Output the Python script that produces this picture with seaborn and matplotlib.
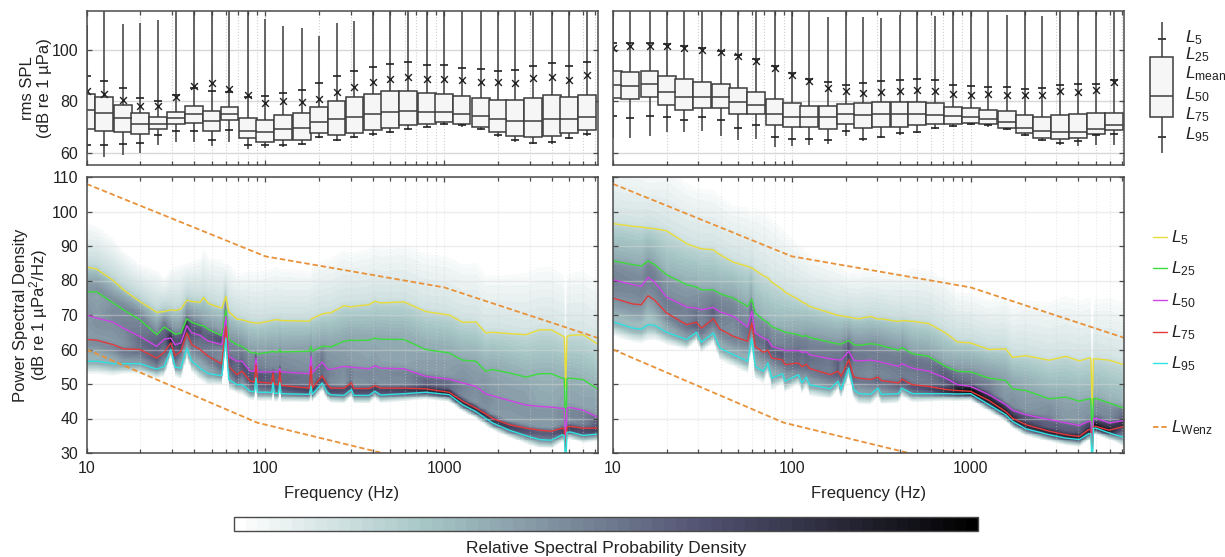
import numpy as np
import pandas as pd
import matplotlib
matplotlib.use('Agg')
import matplotlib.pyplot as plt
import seaborn as sns
from matplotlib.cm import ScalarMappable
from matplotlib.colors import Normalize, PowerNorm
from matplotlib.lines import Line2D
from matplotlib.ticker import FixedLocator, FixedFormatter, NullFormatter

# third octave bands of the box plots
BANDS = [10, 12.5, 16, 20, 25, 31.5, 40, 50, 63, 80, 100, 125, 160, 200, 250, 315, 400, 500,
         630, 800, 1000, 1250, 1600, 2000, 2500, 3150, 4000, 5000, 6300]

# rms SPL, left panel
left_max = [109.6, 118, 109.9, 110.2, 111.6, 118, 118, 118, 118, 118, 111.8, 109.3, 108.4, 105.5, 110.5, 111.2, 118, 118, 118, 118, 118, 118, 118, 118, 118, 118, 118, 118, 118]
left_l5 = [89.7, 87.9, 85.1, 81.2, 80, 82.4, 85.1, 83.9, 83.8, 81.7, 82, 83.4, 84.6, 87, 89.7, 91.6, 93.4, 94.6, 95.1, 94.2, 94, 93.1, 92.4, 91.6, 92.2, 93.8, 94.7, 93.8, 95.1]
left_mean = [83.9, 82.9, 80.5, 78.1, 78.1, 81.9, 86.1, 87.1, 84.8, 82.4, 79.3, 80.1, 79.6, 81, 83.7, 85.5, 87.5, 88.8, 89.5, 88.7, 88.7, 88.2, 87.5, 87.4, 87.3, 88.9, 89.5, 88.2, 90.2]
left_l25 = [82.9, 81.6, 78.8, 75.4, 73.9, 76.1, 78.4, 76.3, 77.7, 73.4, 73, 74.7, 75.6, 77.7, 80.1, 81.6, 82.9, 84, 84.2, 83.4, 82.9, 82, 81.4, 80.6, 80.5, 81.5, 82.5, 81.7, 82.3]
left_l50 = [76.6, 75.6, 73.6, 71.3, 71.4, 73.4, 75, 72.5, 75.2, 68.6, 68.1, 69.4, 69.8, 72, 73.2, 74, 75.2, 75.8, 76.2, 75.8, 75.8, 75.3, 74.3, 73.1, 72.3, 72.6, 73.2, 73.1, 73.8]
left_l75 = [69.4, 68.7, 68, 67.3, 69.3, 71.1, 71.7, 68.4, 72.7, 65.7, 64.4, 65.1, 65.1, 67.8, 67.1, 67.7, 68.9, 69.9, 70.8, 71.4, 72, 71.4, 70.3, 68.1, 66.6, 66.2, 66.6, 67.6, 69.1]
left_l95 = [63.1, 63.3, 63.6, 64, 67.1, 68.7, 68.5, 64.9, 69.1, 63.3, 63, 63.2, 63.7, 66.4, 65.1, 66.3, 67.3, 68.2, 69.4, 70.3, 71.1, 70.7, 69.4, 66.9, 64.9, 63.9, 64.4, 65.9, 67.3]
left_min = [60.1, 58.5, 59.1, 60.1, 63.3, 64.2, 64.2, 62.7, 64.2, 61.7, 62.1, 62.4, 63, 65.9, 64.6, 65.8, 66.8, 67.8, 69, 70, 70.7, 70.3, 69, 66.4, 64.4, 63.4, 63.7, 65.3, 66.8]

# rms SPL, right panel
right_max = [118, 118, 118, 118, 118, 118, 118, 118, 118, 118, 118, 118, 112.6, 118, 112.6, 112.1, 113.5, 118, 113, 118, 118, 118, 113.5, 118, 113.2, 118, 118, 118, 118]
right_l5 = [102.6, 102.6, 102.6, 102.2, 101.3, 100.8, 99.7, 98.1, 96.4, 93.6, 91, 88.7, 87.4, 86.5, 87.1, 87.9, 88.2, 88.7, 88.2, 86.5, 85.9, 85.4, 85.5, 85, 85.1, 86.5, 86.9, 86.9, 88.3]
right_mean = [100.6, 101.3, 101.3, 101.3, 100.6, 100, 99, 97.4, 95.6, 93.1, 90.4, 87.9, 85.3, 84, 83.2, 83.5, 84, 84.3, 84, 82.9, 82.5, 82.8, 82.3, 82.4, 82.3, 84.2, 83.5, 84.6, 87.7]
right_l25 = [91.9, 91.5, 91.9, 89.8, 88.6, 87.5, 86.9, 85.2, 83.5, 80.8, 79.3, 78.4, 78.3, 78.9, 79.4, 79.9, 79.9, 79.8, 79.3, 77.9, 77.5, 76.8, 76.2, 74.9, 74.1, 74.7, 75.2, 75.6, 75.7]
right_l50 = [86.5, 85.9, 86.8, 83.5, 81.7, 81.6, 81.6, 79.7, 78.6, 75, 74, 74, 73.9, 75.2, 74.8, 75.3, 75.3, 75, 74.6, 74.3, 74, 73.2, 71.9, 69.9, 68.4, 68.2, 68.2, 69.4, 70.7]
right_l75 = [81.5, 81, 81.9, 78.6, 76.6, 77.4, 77.6, 75.2, 75, 70.8, 70.2, 70.2, 69.4, 71.3, 69.8, 70, 70.3, 70.7, 71.3, 71.3, 71.7, 71.3, 69.8, 67.6, 65.9, 65.3, 65.7, 67.5, 69.1]
right_l95 = [74.3, 73.6, 74.4, 73.9, 73, 73.8, 72.7, 69.8, 70.9, 66.2, 65.3, 65.3, 64.9, 68.5, 65.5, 66.3, 67.6, 68.2, 69.6, 70.4, 71.1, 70.7, 69.4, 67.1, 65, 63.9, 64.8, 66.9, 67.5]
right_min = [65.9, 65.9, 66.6, 68.1, 68.1, 68.5, 66.8, 65, 65.3, 62.3, 62.7, 63.1, 63.5, 66.8, 64.8, 65.8, 67.1, 67.8, 69.2, 70, 70.7, 70.3, 69, 66.6, 64.5, 63, 62.7, 63, 63.1]

# power spectral density percentiles, left panel
psd_left_f = [10, 11.4, 14.1, 16.1, 19.9, 24.7, 27.2, 29.6, 31.3, 33.7, 36.4, 38.8, 43.2, 45.1, 48.1, 57.1, 60.2, 62.4, 69.4, 74.1, 82.4, 86.8, 88.7, 90.5, 104.5, 108.5, 110.4, 112.5, 118.5, 120.5, 122.5, 176, 180.3, 183, 207.9, 222, 231.6, 275.2, 303.1, 312.5, 380, 410, 441, 596, 789, 1067, 1267, 1505, 1712, 1867, 2315, 2871, 3410, 3966, 4570, 4700, 4780, 4860, 5070, 5968, 7200]
psd_left_l5 = [83.9, 83.3, 80, 77.3, 73.9, 70.8, 71, 71.5, 71.3, 71.7, 74.3, 73.9, 73.7, 75.1, 73.3, 72, 75.4, 71, 68.8, 68.6, 67.9, 67.7, 67.7, 67.6, 68.2, 68.4, 68.5, 68.6, 68.6, 68.5, 68.4, 68.2, 68.7, 69, 70.3, 70.6, 70.6, 72.7, 72.3, 72.5, 73, 74, 73.5, 73.8, 71, 70, 67.9, 68, 64.8, 65, 64.6, 64.3, 65.7, 65.7, 64, 63.5, 49, 63.8, 64.1, 64.3, 61.6]
psd_left_l25 = [76.7, 76.7, 73.5, 71.5, 68.6, 64.3, 66.5, 65.3, 64.4, 64.8, 68.9, 67.9, 67, 66.9, 65.8, 64, 71.5, 62.9, 61.4, 60.9, 59.2, 59, 59, 58.7, 59.2, 59.4, 59.5, 59.3, 59.3, 60, 59.3, 59.5, 60.9, 59.5, 60.9, 60.9, 60.7, 62.4, 62.7, 62.6, 62.7, 63.3, 63, 62.9, 60, 59, 56.9, 56.6, 53.7, 54.2, 53.2, 52, 53, 53, 51.7, 51.6, 34, 51.6, 51.7, 51.3, 48.6]
psd_left_l50 = [70, 69.1, 67.9, 66.2, 63.8, 60.9, 63, 63.3, 61.4, 61.9, 66.9, 64.8, 64.1, 63.3, 62.4, 61.4, 69.6, 58, 56.6, 56.6, 53.7, 53.7, 57.5, 53.5, 53.5, 53.5, 53.7, 53.5, 53.5, 54.5, 53.5, 53, 58, 53.2, 56.3, 54.4, 54.2, 55.1, 54.9, 54.8, 54.4, 55.3, 54.6, 54.4, 52.2, 51.4, 50.3, 49.3, 47.1, 46.6, 45.2, 43.9, 43.5, 43.3, 42.9, 42.9, 31, 43, 43.2, 42.4, 40.4]
psd_left_l75 = [62.9, 62.7, 61.4, 60.2, 60, 57.5, 59.2, 61.9, 58.2, 59.5, 64.8, 61.4, 60, 59.2, 58, 55.8, 66.7, 55.1, 52.7, 53.7, 50.8, 50.6, 55.6, 50.6, 50.3, 50.2, 53.2, 50, 49.8, 53.7, 49.6, 48.8, 55.1, 48.8, 52.4, 49.8, 48.8, 48.8, 50.3, 48.7, 48.7, 49.5, 48.8, 48.8, 48.6, 47.6, 45, 43, 41.3, 40, 38.2, 37.2, 36.6, 36.3, 37.2, 37, 29, 37.5, 37.7, 37.2, 37.2]
psd_left_l95 = [56.6, 56.6, 55.9, 55.9, 55.9, 54.3, 55.1, 60, 54.9, 54.6, 60.4, 56.6, 54.6, 53.9, 53, 52.4, 63.3, 51.3, 49.8, 49.8, 47.9, 47.7, 51.7, 47.6, 47.6, 47.5, 50.3, 47.3, 47.3, 50.3, 47.2, 47, 49.3, 47, 50.3, 47.6, 46.9, 46.7, 48.4, 46.7, 46.7, 47.9, 46.8, 47.2, 47.6, 46.9, 44, 42, 40, 38.7, 36.6, 35, 33.9, 33.7, 35.3, 35, 25, 36, 36.1, 35.1, 35.5]

# power spectral density percentiles, right panel
psd_right_f = [10, 12.9, 14.4, 15.7, 17.1, 19.9, 25.8, 29.3, 31.2, 36.4, 39.6, 47.1, 56.6, 59.7, 62.4, 69.3, 73.4, 77.3, 88.7, 91.7, 108.9, 113.9, 120.6, 125.5, 164, 181.3, 188.6, 208, 222, 237, 275.2, 303, 317, 395, 412, 471, 584, 724, 842, 1000, 1267, 1571, 1713, 2035, 2750, 3410, 4050, 4570, 4700, 4780, 4860, 5020, 5960, 7200]
psd_right_l5 = [96.5, 95.7, 95.5, 95.2, 95, 94.4, 90.7, 89.6, 89.2, 88.9, 87.5, 85.3, 84.1, 83.6, 83, 81.4, 80.8, 79.5, 77.4, 76.6, 74.5, 73.8, 73.2, 72.5, 70.6, 69.9, 69.8, 69.4, 69.1, 68.9, 69.6, 68.8, 68.9, 68.1, 68.4, 68.2, 67.5, 64.8, 62.2, 61.9, 60, 60.2, 57.7, 58.2, 56.9, 58, 56.7, 57.5, 57.5, 44, 57.3, 57.3, 56.9, 55.6]
psd_right_l25 = [85.7, 84.6, 84.2, 85.7, 84.6, 81.7, 78.8, 78.1, 77.3, 77.3, 76.2, 74.9, 72.5, 74.6, 70.6, 68.6, 67.8, 66.6, 65.4, 65, 64.3, 63.8, 64, 63.5, 62.1, 61.6, 61.6, 62.6, 61.4, 61.2, 61.7, 61.4, 61.1, 59.8, 60.6, 58.8, 58, 55.1, 53.7, 53.5, 51.7, 51, 48.6, 48.1, 45.7, 46.2, 45, 45.7, 45.7, 33, 45.8, 45.8, 44.5, 43]
psd_right_l50 = [80.2, 78.8, 78.3, 80.9, 79.5, 75.2, 72.3, 72, 71.5, 72.2, 70.9, 69.6, 66.5, 71, 64.8, 63.3, 62.8, 60.9, 60, 59.7, 59.7, 59.2, 59.3, 58.5, 57.3, 57, 57, 59.5, 56.9, 56.7, 56.9, 56.6, 56.3, 55.1, 55.9, 54.6, 53.7, 51.7, 49.8, 49.3, 46.9, 44, 42.4, 41.1, 39.7, 38.7, 38, 39.2, 39, 31, 40, 40.1, 38.7, 39.4]
psd_right_l75 = [74.9, 73.2, 73, 75.6, 74.3, 70.6, 67.2, 67.9, 66.2, 68.9, 65.9, 63.8, 62.4, 67.7, 60.9, 59.2, 59.8, 57.5, 57, 55.6, 56.1, 55, 55.7, 54.5, 52.7, 53.7, 52.2, 57, 52, 51.7, 51.3, 52, 51, 50.3, 51.4, 49.8, 49.3, 48.4, 48.1, 47.9, 45.2, 42, 40.1, 38.2, 36.3, 35.3, 34.8, 36.8, 36.8, 29, 37.7, 37.7, 36.6, 37.7]
psd_right_l95 = [68, 66.2, 65.9, 67.2, 67, 65, 62.9, 65, 62.1, 64.8, 60.4, 58.5, 56.6, 63.3, 55.1, 53.7, 56.1, 51.7, 53, 50.8, 52.7, 50.3, 52, 49.8, 48.6, 50.8, 48.4, 54.6, 48.4, 47.2, 47, 48.8, 47, 47.2, 48.8, 47.2, 47.2, 47.2, 47.1, 47.2, 44, 41.1, 39.2, 37, 35.3, 34.3, 33.9, 35.6, 35.6, 25, 37.2, 37.2, 35.8, 34.5]

# Wenz limits
wenz_hi_f = [10, 100, 1000, 7200]
wenz_hi = [108, 87, 78, 63.4]
wenz_lo_f = [10, 90, 450, 1000]
wenz_lo = [60, 38.8, 30, 25.5]

# legend box, in dB on the same scale as the top panels
key_values = [60.2, 74.1, 82.2, 97.3, 110.8]
key_l5 = 104.2
key_l95 = 66.4
key_mean = 90.0

line_names = ['L5', 'L25', 'L50', 'L75', 'L95']
line_colors = ['#e8dc3a', '#3cdc3c', '#cf42e6', '#e23a3a', '#2fe2e2']
line_labels = ['5', '25', '50', '75', '95']
wenz_color = '#e8923a'
dark = '#4a4a4a'
cmap = sns.color_palette('bone_r', as_cmap=True).resampled(64)
norm = PowerNorm(0.5, vmin=0.0008, vmax=0.22, clip=True)

sns.set_theme(style='ticks')
plt.rcParams['font.family'] = ['Liberation Sans', 'DejaVu Sans']
plt.rcParams['mathtext.fontset'] = 'custom'
plt.rcParams['mathtext.rm'] = 'Liberation Sans'
plt.rcParams['mathtext.it'] = 'Liberation Sans:italic'

W, H = 1225, 557
fig = plt.figure(figsize=(W / 100, H / 100), dpi=100, facecolor='white')


def add_axes(x0, y0, x1, y1):
    # pixel box, y from the top
    return fig.add_axes([x0 / W, 1 - y1 / H, (x1 - x0) / W, (y1 - y0) / H])


def style_freq_axis(ax, labels, grid_alpha):
    ax.set_xscale('log')
    ax.set_xlim(10, 7200)
    ax.xaxis.set_major_locator(FixedLocator([10, 100, 1000]))
    ax.xaxis.set_major_formatter(FixedFormatter(['10', '100', '1000'] if labels else ['', '', '']))
    ax.xaxis.set_minor_locator(FixedLocator([m * d for d in (10, 100, 1000) for m in range(2, 10) if m * d < 7200]))
    ax.xaxis.set_minor_formatter(NullFormatter())
    ax.tick_params(axis='both', which='both', direction='in', top=True, right=True, color=dark, width=0.9, length=3.5, labelsize=11.5, pad=6, labelcolor='#222222')
    ax.tick_params(axis='x', which='minor', length=3)
    ax.grid(True, which='both', axis='x', color='#d0d0d0', lw=0.8, ls=':', alpha=grid_alpha)
    ax.grid(True, which='major', axis='y', color='#d8d8d8', lw=1.0, alpha=grid_alpha)
    ax.set_axisbelow(False)
    for sp in ax.spines.values():
        sp.set_color(dark)
        sp.set_linewidth(1.1)
        sp.set_zorder(10)


def draw_boxes(ax, mn, l5, mean, l25, l50, l75, l95, mx):
    # five values per band give back the quartiles exactly, whiskers run to the extremes
    rows = pd.DataFrame({'freq': np.tile(BANDS, 5), 'level': np.concatenate([mn, l75, l50, l25, mx])})
    sns.boxplot(data=rows, x='freq', y='level', native_scale=True, log_scale=(True, False), whis=(0, 100), width=1.03, gap=0,
                color='#f6f6f6', linecolor='#3c3c3c', linewidth=1.1, fliersize=0, showcaps=False, saturation=1, ax=ax, zorder=3)
    ticks = pd.DataFrame({'freq': BANDS * 2, 'level': list(l5) + list(l95)})
    sns.scatterplot(data=ticks, x='freq', y='level', marker='_', s=28, color='#222222', linewidth=1.2, ax=ax, zorder=4, legend=False)
    means = pd.DataFrame({'freq': BANDS, 'level': mean})
    sns.scatterplot(data=means, x='freq', y='level', marker='x', s=24, color='#222222', linewidth=1.0, ax=ax, zorder=5, legend=False)
    ax.set_ylim(55.4, 115)
    ax.set_yticks([60, 80, 100])
    ax.set_xlabel('')
    ax.set_ylabel('')


def density_grid(f, l5, l25, l50, l75, l95):
    # spectral density per column: slope of a smooth level distribution through the percentile curves
    xs = np.logspace(1, np.log10(7200), 700)
    ys = np.arange(20, 135, 0.25)
    lf = np.log10(f)
    grid = np.zeros((len(ys), len(xs)))
    kernel = np.exp(-0.5 * (np.arange(-8, 9) * 0.25 / 0.7) ** 2)
    kernel /= kernel.sum()
    zq = np.array([-1.645, -0.674, 0, 0.674, 1.645])
    for i, x in enumerate(np.log10(xs)):
        a = [np.interp(x, lf, c) for c in (l95, l75, l50, l25, l5)]
        for k in range(1, 5):
            a[k] = max(a[k], a[k - 1] + 0.3)
        lo_slope = 0.97 / (a[1] - a[0]) * 3
        hi_slope = 0.97 / (a[4] - a[3]) * 0.6
        knots = [a[0] - 4.36 / lo_slope] + a + [a[4] + 4.36 / hi_slope]
        z = np.interp(ys, knots, np.r_[-6, zq, 6])
        dens = np.exp(-0.5 * z ** 2) / np.sqrt(2 * np.pi) * np.gradient(z, 0.25)
        grid[:, i] = np.convolve(dens, kernel, mode='same')
    return xs, ys, grid


def draw_psd(ax, f, curves):
    xs, ys, grid = density_grid(f, *curves)
    ax.pcolormesh(xs, ys, grid, cmap=cmap, norm=norm, shading='auto', zorder=0)
    for name, vals, col in zip(line_names, curves, line_colors):
        line = pd.DataFrame({'freq': f, 'level': vals})
        sns.lineplot(data=line, x='freq', y='level', color=col, lw=1.0, errorbar=None, ax=ax, zorder=4, legend=False)
    for fx, vals in ((wenz_hi_f, wenz_hi), (wenz_lo_f, wenz_lo)):
        line = pd.DataFrame({'freq': fx, 'level': vals})
        sns.lineplot(data=line, x='freq', y='level', color=wenz_color, lw=1.3, dashes=(3, 1.6), errorbar=None, ax=ax, zorder=5, legend=False)
    ax.set_ylim(30, 110)
    ax.set_yticks(range(30, 111, 10))


# top row
ax_tl = add_axes(86.5, 11, 597.5, 165)
ax_tr = add_axes(613, 11, 1124, 165)
ax_tl.set_xscale('log')
ax_tr.set_xscale('log')
draw_boxes(ax_tl, left_min, left_l5, left_mean, left_l25, left_l50, left_l75, left_l95, left_max)
draw_boxes(ax_tr, right_min, right_l5, right_mean, right_l25, right_l50, right_l75, right_l95, right_max)
style_freq_axis(ax_tl, False, 1.0)
style_freq_axis(ax_tr, False, 1.0)
ax_tr.set_yticklabels([])

# bottom row
ax_bl = add_axes(86.5, 177, 597.5, 453)
ax_br = add_axes(613, 177, 1124, 453)
ax_bl.set_xscale('log')
ax_br.set_xscale('log')
draw_psd(ax_bl, psd_left_f, [psd_left_l5, psd_left_l25, psd_left_l50, psd_left_l75, psd_left_l95])
draw_psd(ax_br, psd_right_f, [psd_right_l5, psd_right_l25, psd_right_l50, psd_right_l75, psd_right_l95])
style_freq_axis(ax_bl, True, 0.45)
style_freq_axis(ax_br, True, 0.45)
ax_br.set_yticklabels([])
for ax in (ax_bl, ax_br):
    ax.set_xlabel('Frequency (Hz)', fontsize=12, labelpad=7, color='#222222')
ax_br.set_ylabel('')

ax_tl.set_ylabel('rms SPL\n(dB re 1 µPa)', fontsize=12, color='#222222', linespacing=1.2)
ax_tl.yaxis.set_label_coords((52 - 86.5) / 511, 0.5)
ax_bl.set_ylabel('Power Spectral Density\n(dB re 1 µPa$^2$/Hz)', fontsize=12, color='#222222', linespacing=0.95)
ax_bl.yaxis.set_label_coords((50 - 86.5) / 511, 0.5)

# box legend
ax_key = add_axes(1141.5, 11, 1181.5, 165)
sns.boxplot(y=key_values, width=0.58, whis=(0, 100), color='#f6f6f6', linecolor='#3c3c3c', linewidth=1.1, fliersize=0,
            showcaps=False, saturation=1, ax=ax_key)
sns.scatterplot(x=[0, 0], y=[key_l5, key_l95], marker='_', s=28, color='#222222', linewidth=1.2, ax=ax_key, legend=False)
sns.scatterplot(x=[0], y=[key_mean], marker='x', s=18, color='#222222', linewidth=0.8, ax=ax_key, legend=False)
ax_key.set_xlim(-0.5, 0.5)
ax_key.set_ylim(55.4, 115)
ax_key.axis('off')

for label, py in zip(['5', '25', r'\mathrm{mean}', '50', '75', '95'], [38, 55, 74, 95, 115, 135]):
    fig.text(1185 / W, 1 - py / H, '$L_{' + label + '}$', fontsize=12.5, va='center', color='#222222')

# line legend
for label, col, py in zip(line_labels, line_colors, [236.7, 268, 300, 331.7, 363]):
    fig.add_artist(Line2D([1153 / W, 1167 / W], [1 - py / H] * 2, color=col, lw=1.0))
    fig.text(1171 / W, 1 - (py + 1) / H, '$L_{' + label + '}$', fontsize=12.5, va='center', color='#222222')
fig.add_artist(Line2D([1153 / W, 1167 / W], [1 - 426.7 / H] * 2, color=wenz_color, lw=1.3, dashes=(3, 1.6)))
fig.text(1171 / W, 1 - 428 / H, r'$L_{\mathrm{Wenz}}$', fontsize=12.5, va='center', color='#222222')

# colour bar
cax = add_axes(234, 517, 978, 531)
cb = fig.colorbar(ScalarMappable(Normalize(0, 1), cmap), cax=cax, orientation='horizontal')
cb.set_ticks([])
cb.outline.set_edgecolor(dark)
cb.outline.set_linewidth(1.0)
fig.text(606 / W, 1 - 549 / H, 'Relative Spectral Probability Density', fontsize=12.5, ha='center', va='center', color='#222222')

fig.savefig('out.png', dpi=100, facecolor='white')
